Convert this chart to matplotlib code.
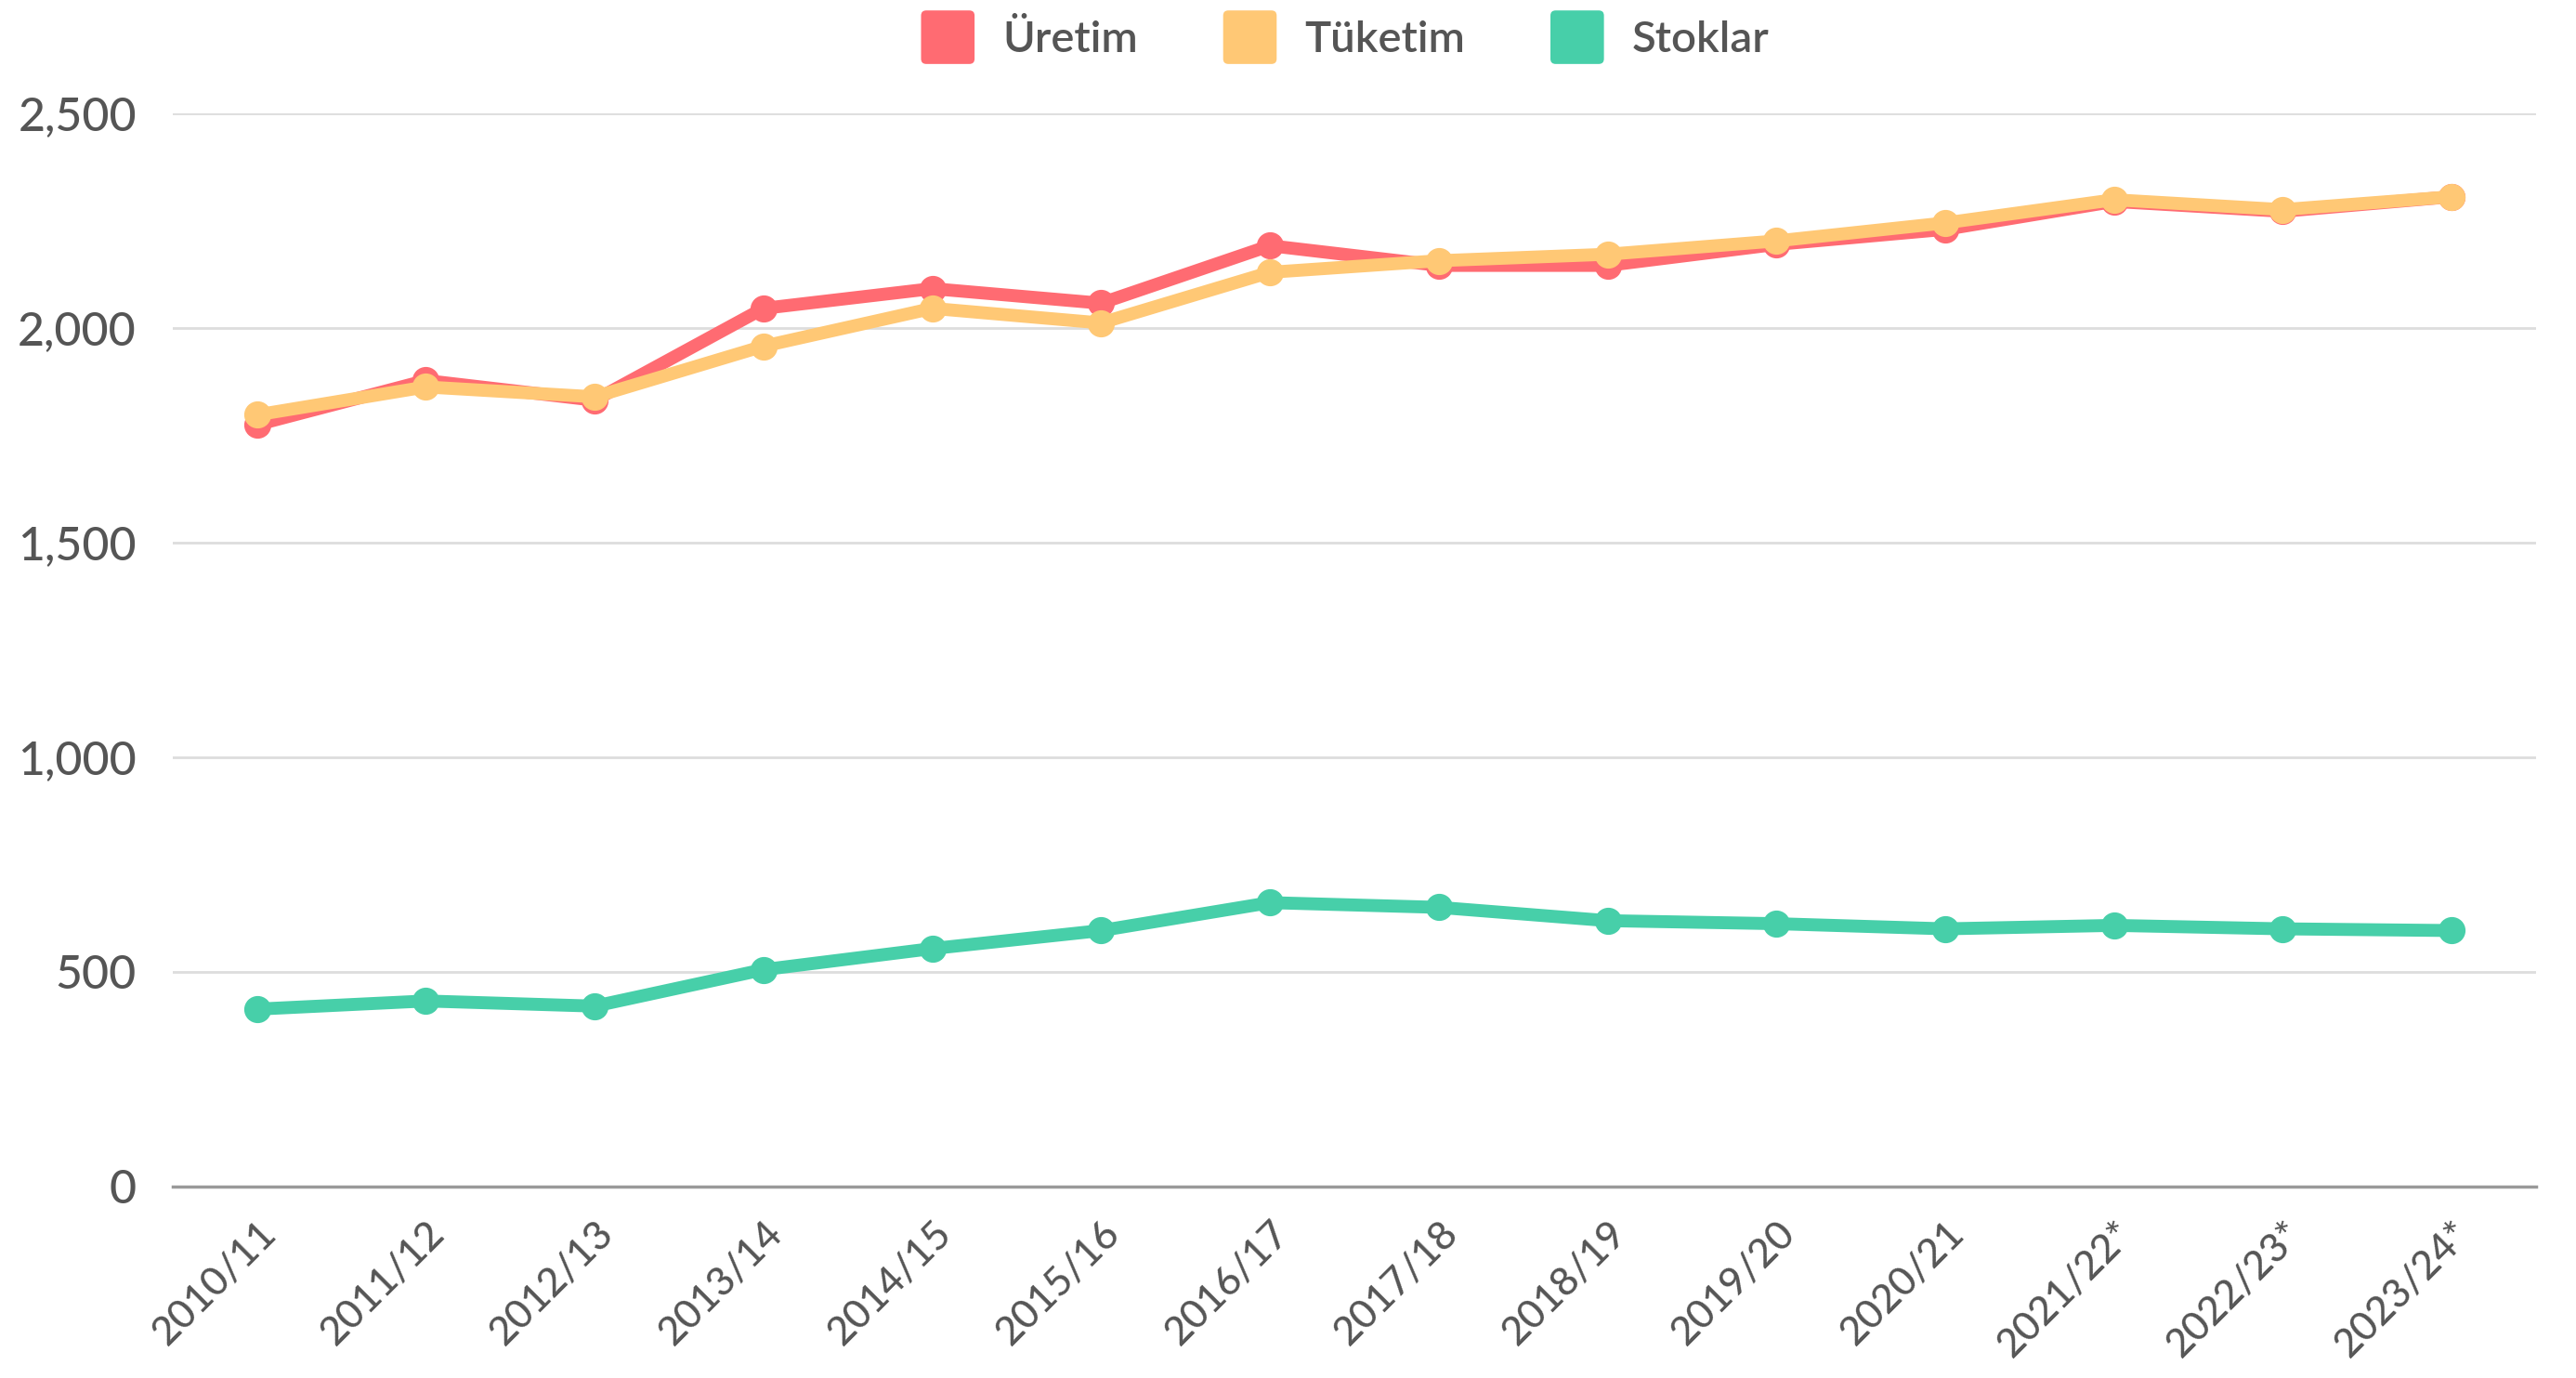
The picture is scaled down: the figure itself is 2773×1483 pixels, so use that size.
import numpy as np
import matplotlib
matplotlib.use("Agg")
import matplotlib.pyplot as plt
from matplotlib.patches import Patch, FancyBboxPatch
from matplotlib.legend_handler import HandlerPatch
from matplotlib.ticker import FuncFormatter

seasons = ["2010/11", "2011/12", "2012/13", "2013/14", "2014/15", "2015/16", "2016/17",
           "2017/18", "2018/19", "2019/20", "2020/21", "2021/22*", "2022/23*", "2023/24*"]
uretim = [1774, 1877, 1831, 2045, 2091, 2057, 2191, 2145, 2145, 2194, 2229, 2294, 2271, 2305]
tuketim = [1797, 1862, 1839, 1957, 2045, 2011, 2129, 2156, 2171, 2202, 2244, 2298, 2275, 2305]
stoklar = [413, 432, 420, 505, 554, 596, 661, 650, 619, 612, 600, 608, 600, 596]

names = ["Üretim", "Tüketim", "Stoklar"]
colors = ["#FF6B72", "#FFC875", "#47CFA9"]

plt.rcParams['font.family'] = ['Lato', 'DejaVu Sans']
txt = "#555555"


class RoundBox(HandlerPatch):
    def create_artists(self, legend, orig_handle, xdescent, ydescent, width, height, fontsize, trans):
        side = min(width, height)
        p = FancyBboxPatch((-xdescent + (width - side) / 2, -ydescent + (height - side) / 2),
                           side, side, boxstyle="round,pad=0,rounding_size=4",
                           facecolor=orig_handle.get_facecolor(), edgecolor='none', transform=trans)
        return [p]


fig = plt.figure(figsize=(27.73, 14.83), dpi=100)
ax = fig.add_axes([0.067, 0.139, 0.9175, 0.779])

x = np.arange(len(seasons))
for vals, c in zip([stoklar, uretim, tuketim], [colors[2], colors[0], colors[1]]):
    ax.plot(x, vals, color=c, lw=10, marker='o', ms=20, clip_on=False,
            solid_joinstyle='round')

ax.set_xlim(-0.5, 13.5)
ax.set_ylim(0, 2500)
ax.set_yticks([0, 500, 1000, 1500, 2000, 2500])
ax.yaxis.set_major_formatter(FuncFormatter(lambda v, p: f"{int(v):,}"))
ax.set_xticks(x)
ax.set_xticklabels(seasons, rotation=45, ha='right', rotation_mode='anchor')

ax.grid(axis='y', color='#DDDDDD', lw=2)
ax.set_axisbelow(True)
for s in ['top', 'right', 'left']:
    ax.spines[s].set_visible(False)
ax.spines['bottom'].set_color('#999999')
ax.spines['bottom'].set_linewidth(2.5)
ax.tick_params(axis='y', length=0, labelsize=36, labelcolor=txt, pad=28)
ax.tick_params(axis='x', length=0, labelsize=31, labelcolor=txt, pad=22)
for lbl in ax.get_xticklabels() + ax.get_yticklabels():
    lbl.set_fontweight('medium')

handles = [Patch(facecolor=c, edgecolor='none') for c in colors]
leg = fig.legend(handles, names, loc='center', bbox_to_anchor=(0.521, 0.973), ncol=3,
                 frameon=False, fontsize=34, handlelength=1.5, handleheight=1.5,
                 handletextpad=0.5, columnspacing=1.8,
                 handler_map={Patch: RoundBox()})
for t in leg.get_texts():
    t.set_color(txt)
    t.set_fontweight('semibold')

fig.savefig("out.png", dpi=100, facecolor='white')
